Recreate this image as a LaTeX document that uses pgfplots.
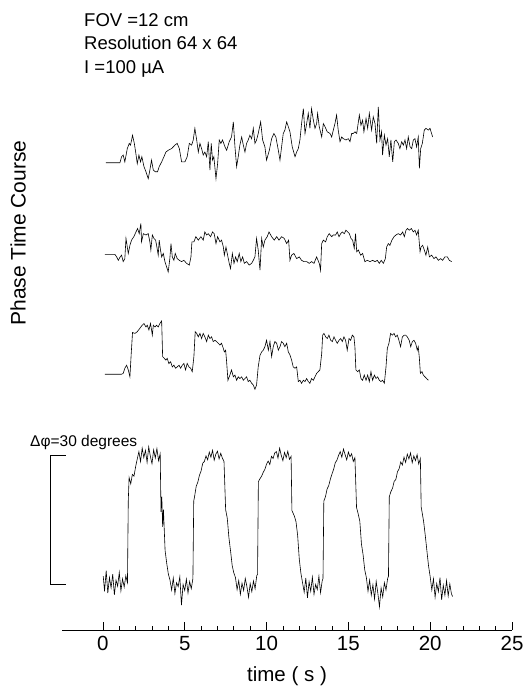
\documentclass[border=0pt]{standalone}
\usepackage{fontspec}
\setmainfont{Liberation Sans}
\usepackage{pgfplots}
\pgfplotsset{compat=1.18}
\usepackage{pgfplotstable}

% phase traces in degrees, stacked (top trace = A, bottom = D)
\pgfplotstableread{
t y
0.18 108.7
1.04 108.7
1.14 110.1
1.24 110.5
1.34 108.9
1.49 112.0
1.61 113.2
1.69 112.8
1.81 115.1
1.92 113.2
2.00 111.2
2.10 108.5
2.20 110.5
2.30 108.9
2.38 110.1
2.51 107.8
2.63 106.6
2.77 105.0
2.87 107.0
2.97 109.3
3.08 107.0
3.20 106.6
3.34 106.6
3.44 107.8
3.59 108.9
3.73 110.1
3.85 111.2
3.99 111.6
4.20 112.0
4.40 112.8
4.54 113.2
4.67 112.0
4.81 108.9
5.01 108.9
5.15 110.1
5.28 113.2
5.42 112.8
5.52 114.0
5.62 116.7
5.73 114.0
5.83 111.2
5.93 113.2
6.03 112.0
6.13 110.5
6.23 111.2
6.34 110.1
6.44 113.6
6.54 107.0
6.62 113.2
6.70 109.3
6.78 110.1
6.91 105.0
7.01 108.5
7.11 114.0
7.21 113.2
7.31 114.0
7.46 112.4
7.56 111.6
7.72 113.6
7.86 114.7
7.97 118.2
8.07 112.4
8.17 107.8
8.27 110.1
8.37 112.8
8.48 114.7
8.58 112.8
8.68 111.2
8.78 113.2
8.88 114.0
8.98 115.1
9.09 114.3
9.19 116.7
9.29 113.2
9.39 114.0
9.49 115.5
9.64 118.2
9.76 114.0
9.90 112.4
10.00 109.3
10.17 111.6
10.31 114.3
10.45 115.5
10.57 114.7
10.72 111.6
10.82 109.3
10.92 112.4
11.02 115.5
11.12 116.3
11.23 118.2
11.33 117.1
11.43 115.9
11.57 112.4
11.74 110.1
11.84 111.2
11.94 112.0
12.04 114.0
12.14 117.8
12.25 121.3
12.35 115.5
12.45 117.8
12.55 120.2
12.65 116.7
12.75 121.3
12.86 118.6
12.96 116.7
13.06 117.8
13.12 120.2
13.22 117.1
13.37 114.7
13.47 117.8
13.57 117.1
13.71 115.9
13.88 115.5
13.98 114.7
14.08 116.3
14.18 117.8
14.28 119.8
14.38 116.3
14.49 113.6
14.59 114.7
14.69 114.3
14.85 114.0
15.00 114.3
15.10 113.6
15.20 115.5
15.30 115.5
15.40 115.9
15.51 115.5
15.67 119.8
15.77 117.4
15.87 118.6
15.95 115.9
16.08 119.0
16.18 116.7
16.28 120.2
16.42 116.3
16.52 119.4
16.63 117.8
16.73 113.2
16.83 121.7
16.93 114.0
17.03 115.9
17.09 110.5
17.20 115.1
17.30 112.8
17.40 114.3
17.50 110.1
17.60 114.0
17.71 108.9
17.81 113.6
17.91 114.0
18.05 113.2
18.15 112.0
18.26 113.6
18.36 112.8
18.46 114.0
18.56 112.0
18.66 114.7
18.77 112.4
18.87 112.0
18.97 114.0
19.07 114.3
19.17 112.4
19.27 114.7
19.34 107.4
19.42 112.0
19.52 113.2
19.64 116.3
19.74 116.7
19.89 116.3
19.99 116.7
20.15 114.7
}\traceA

\pgfplotstableread{
t y
0.12 87.4
0.73 87.4
0.84 86.8
0.94 86.0
1.04 86.7
1.14 87.2
1.24 85.7
1.34 86.4
1.41 91.1
1.49 89.1
1.55 87.6
1.65 89.5
1.75 90.7
1.89 91.5
2.02 92.6
2.12 93.4
2.22 92.2
2.32 94.6
2.36 90.3
2.47 92.2
2.63 91.9
2.77 92.2
2.87 90.3
2.93 88.4
3.02 91.9
3.12 91.1
3.22 90.7
3.28 89.5
3.38 87.2
3.44 90.7
3.52 88.4
3.59 86.8
3.69 87.6
3.79 85.7
3.89 84.5
3.99 83.3
4.09 86.4
4.16 89.9
4.24 86.8
4.34 86.0
4.42 87.6
4.54 86.4
4.67 86.0
4.81 85.7
4.95 86.0
5.11 85.3
5.28 84.9
5.38 86.8
5.44 90.3
5.56 90.3
5.68 91.5
5.83 90.7
5.99 91.5
6.13 90.7
6.23 92.6
6.34 91.9
6.44 92.2
6.58 91.5
6.70 92.6
6.80 92.2
6.91 89.9
7.01 91.5
7.15 90.3
7.25 90.7
7.36 89.1
7.42 87.2
7.52 89.1
7.62 87.2
7.72 85.3
7.80 84.1
7.91 87.6
8.01 85.3
8.11 86.8
8.21 85.7
8.33 87.6
8.43 85.7
8.54 86.8
8.64 85.3
8.78 85.7
8.94 84.9
9.09 85.3
9.19 86.0
9.29 86.8
9.39 91.1
9.49 88.4
9.60 83.7
9.70 91.1
9.80 89.1
9.90 90.7
10.04 91.5
10.15 92.6
10.31 91.5
10.47 90.7
10.62 91.5
10.76 90.7
10.92 91.5
11.08 91.1
11.23 89.9
11.35 90.7
11.43 86.0
11.53 87.2
11.67 87.6
11.84 86.4
12.00 86.8
12.14 86.0
12.29 85.7
12.45 85.7
12.61 85.3
12.75 85.7
12.90 85.3
13.06 86.8
13.22 85.3
13.30 83.7
13.37 89.9
13.47 90.7
13.61 90.3
13.71 91.5
13.83 92.2
13.98 91.5
14.08 91.9
14.22 91.9
14.32 92.6
14.43 91.5
14.53 92.2
14.63 92.6
14.75 92.2
14.85 93.0
14.96 92.6
15.06 92.2
15.16 91.1
15.26 90.7
15.36 88.8
15.44 92.2
15.51 88.0
15.61 88.4
15.75 87.2
15.87 87.6
16.01 85.7
16.16 86.0
16.32 85.7
16.48 86.0
16.63 85.7
16.77 86.0
16.89 85.3
17.01 86.0
17.14 85.3
17.26 86.4
17.34 89.1
17.44 89.9
17.54 89.5
17.66 90.7
17.79 91.5
17.91 91.9
18.05 92.2
18.19 91.9
18.32 92.6
18.42 91.5
18.52 93.0
18.62 93.4
18.72 93.0
18.85 93.4
18.97 92.6
19.07 93.0
19.17 91.9
19.27 93.0
19.38 88.0
19.44 89.1
19.54 89.5
19.64 88.4
19.74 87.2
19.85 89.1
19.95 86.8
20.09 87.2
20.23 86.4
20.35 86.8
20.50 86.0
20.64 86.4
20.76 86.0
20.90 86.8
21.05 86.8
21.17 86.0
21.31 85.7
}\traceB

\pgfplotstableread{
t y
0.12 59.5
1.14 59.5
1.24 59.7
1.34 60.9
1.45 61.6
1.55 60.5
1.65 58.9
1.73 64.3
1.81 69.2
1.96 69.0
2.10 69.4
2.26 70.2
2.40 70.9
2.51 71.3
2.63 70.5
2.71 70.9
2.81 69.8
2.91 71.3
3.02 68.6
3.08 70.9
3.18 70.5
3.28 70.9
3.38 70.5
3.48 71.3
3.59 71.9
3.65 63.6
3.75 63.2
3.85 62.8
3.93 63.2
4.03 62.0
4.14 62.4
4.24 61.2
4.34 61.6
4.44 60.9
4.54 61.2
4.65 61.6
4.75 60.9
4.85 61.6
4.95 62.0
5.05 60.5
5.15 62.0
5.26 61.2
5.36 60.9
5.46 60.1
5.56 63.6
5.64 69.4
5.73 69.0
5.83 68.2
5.93 69.0
6.03 67.8
6.13 69.0
6.23 68.2
6.34 67.1
6.44 68.6
6.54 67.8
6.64 68.2
6.74 67.1
6.85 67.4
6.95 67.1
7.05 66.7
7.15 66.3
7.25 66.7
7.36 65.5
7.42 64.7
7.50 65.1
7.56 62.4
7.64 58.1
7.76 59.3
7.86 60.5
7.97 58.9
8.07 59.3
8.17 58.1
8.27 58.9
8.37 58.5
8.48 58.9
8.58 58.1
8.68 58.5
8.78 58.9
8.88 57.8
8.98 58.1
9.09 57.4
9.19 57.0
9.29 56.0
9.39 57.0
9.49 61.2
9.60 63.9
9.70 64.7
9.80 65.1
9.90 65.9
10.00 67.4
10.11 65.1
10.21 67.1
10.31 63.6
10.41 65.9
10.51 67.1
10.62 66.7
10.72 65.1
10.82 65.9
10.92 67.1
11.02 66.7
11.12 65.9
11.23 66.7
11.33 64.7
11.43 64.0
11.53 62.8
11.63 61.2
11.74 60.9
11.84 61.2
11.94 57.8
12.04 58.1
12.14 57.4
12.25 58.1
12.35 57.8
12.45 58.5
12.55 57.8
12.65 57.4
12.75 58.5
12.86 58.1
12.96 58.9
13.06 59.7
13.16 60.1
13.26 60.5
13.37 64.3
13.43 68.6
13.51 69.0
13.61 68.2
13.71 67.8
13.81 68.6
13.92 67.4
14.02 67.1
14.12 68.2
14.22 67.4
14.32 66.7
14.43 67.4
14.53 67.8
14.63 67.1
14.73 68.2
14.83 67.4
14.93 65.1
15.04 67.8
15.14 67.4
15.24 68.6
15.34 68.2
15.40 65.9
15.46 60.5
15.57 60.1
15.67 60.5
15.77 58.5
15.87 58.1
15.97 59.3
16.08 58.1
16.18 59.3
16.28 57.8
16.38 60.1
16.48 58.1
16.59 59.3
16.69 58.5
16.79 58.9
16.89 58.1
16.99 57.8
17.09 58.1
17.20 57.4
17.30 61.2
17.38 65.5
17.48 66.7
17.58 69.0
17.69 68.6
17.79 69.0
17.89 68.2
17.99 68.6
18.09 67.4
18.19 65.9
18.30 68.2
18.42 68.6
18.50 68.6
18.60 68.2
18.72 67.4
18.81 65.9
18.91 67.1
19.01 67.4
19.11 66.7
19.21 65.1
19.27 65.9
19.34 63.2
19.40 59.7
19.50 60.1
19.58 59.3
19.68 58.9
19.78 58.5
19.89 58.1
}\traceC

\pgfplotstableread{
t y
0.02 12.5
0.1 9.0
0.2 13.8
0.3 8.6
0.4 12.2
0.5 9.8
0.6 13.0
0.7 8.2
0.8 11.6
0.9 10.2
1.0 13.4
1.1 9.1
1.2 11.9
1.3 10.0
1.4 12.6
1.5 11.0
1.55 30.0
1.6 35.5
1.7 34.0
1.8 36.2
1.9 35.8
2.0 38.0
2.1 39.8
2.2 41.5
2.3 39.2
2.4 42.3
2.5 40.1
2.6 41.8
2.7 39.0
2.8 42.6
2.9 40.4
3.0 38.7
3.1 41.9
3.2 40.0
3.3 42.2
3.4 39.4
3.5 41.0
3.55 27.5
3.6 31.0
3.65 24.0
3.7 28.0
3.8 18.5
3.9 15.5
4.0 13.0
4.1 11.6
4.2 9.3
4.3 12.1
4.4 8.5
4.5 11.0
4.6 10.1
4.7 12.4
4.8 5.8
4.9 10.6
5.0 9.2
5.1 11.8
5.2 8.6
5.3 11.3
5.4 9.6
5.5 12.0
5.55 30.0
5.6 31.0
5.7 33.4
5.8 34.4
5.9 36.0
6.0 37.0
6.1 38.8
6.2 39.2
6.3 40.5
6.4 39.6
6.5 41.4
6.6 40.2
6.7 41.8
6.8 39.5
6.9 40.9
7.0 41.6
7.1 39.8
7.2 41.1
7.3 40.0
7.4 39.2
7.5 28.0
7.6 26.0
7.7 21.5
7.8 18.4
7.9 15.0
8.0 13.3
8.1 12.2
8.2 9.4
8.3 11.5
8.4 8.3
8.5 10.9
8.6 9.2
8.7 12.0
8.8 10.1
8.9 7.6
9.0 10.8
9.1 8.9
9.2 11.4
9.3 9.6
9.4 12.6
9.45 13.0
9.5 34.5
9.6 35.2
9.7 35.8
9.8 36.7
9.9 37.4
10.0 38.6
10.1 39.3
10.2 38.5
10.3 40.4
10.4 39.9
10.5 41.2
10.6 41.5
10.7 40.0
10.8 42.3
10.9 40.6
11.0 39.4
11.1 41.3
11.2 40.1
11.3 41.6
11.4 39.7
11.5 40.4
11.55 27.8
11.7 26.5
11.8 25.2
11.9 22.0
12.0 16.5
12.1 13.2
12.2 11.0
12.3 8.8
12.4 12.1
12.5 7.5
12.6 11.2
12.7 9.0
12.8 12.3
12.9 8.3
13.0 10.6
13.1 9.4
13.2 12.5
13.3 8.7
13.4 11.4
13.45 12.0
13.5 30.0
13.6 31.0
13.7 32.8
13.8 33.6
13.9 35.1
14.0 36.3
14.1 37.4
14.2 38.9
14.3 39.5
14.4 40.6
14.5 41.5
14.6 40.2
14.7 42.1
14.8 40.8
14.9 39.6
15.0 41.4
15.1 40.3
15.2 41.0
15.3 39.2
15.4 40.1
15.5 28.5
15.6 27.0
15.7 25.3
15.8 20.0
15.9 17.5
16.0 14.0
16.1 12.2
16.2 9.0
16.3 11.6
16.4 8.1
16.5 10.5
16.6 7.2
16.7 11.3
16.8 8.6
16.9 5.4
17.0 9.8
17.1 7.7
17.2 11.0
17.3 9.3
17.4 12.0
17.45 12.5
17.5 31.0
17.6 32.2
17.7 33.0
17.8 34.6
17.9 35.0
18.0 36.8
18.1 37.5
18.2 39.1
18.3 38.4
18.4 40.2
18.5 39.0
18.6 40.9
18.7 39.8
18.8 41.2
18.9 38.9
19.0 40.5
19.1 39.4
19.2 40.8
19.3 38.6
19.4 39.9
19.45 28.6
19.5 27.5
19.6 25.2
19.7 22.0
19.8 18.4
19.9 14.9
20.0 12.4
20.1 9.3
20.2 11.9
20.3 7.6
20.4 10.8
20.5 8.9
20.6 12.2
20.7 7.0
20.8 10.4
20.9 8.1
21.0 11.5
21.1 7.9
21.2 10.7
21.3 8.4
21.37 7.8
}\traceD

\newcommand{\lblfont}{\fontsize{18.5}{22}\selectfont}
\newcommand{\axfont}{\fontsize{20.5}{24}\selectfont}

\begin{document}
\begin{tikzpicture}
\path[use as bounding box] (0pt,0pt) rectangle (528pt,696pt);
\begin{axis}[
  at={(62pt,66pt)}, anchor=south west,
  scale only axis, width=450pt, height=530pt,
  xmin=-2.5, xmax=25, ymin=0, ymax=123.3,
  axis x line=bottom, axis y line=none,
  axis line style={-, line width=0.8pt},
  xtick={0,5,...,25}, minor x tick num=4,
  tick align=inside,
  major tick length=8pt, minor tick length=3.5pt,
  every tick/.style={black, line width=0.8pt},
  /pgf/number format/assume math mode=true,
  ticklabel style={font=\axfont},
  xticklabel style={yshift=-3pt},
  xlabel={time ( s )},
  xlabel style={font=\axfont, at={(axis description cs:0.5,0)},
    anchor=base, yshift=-52pt},
  clip=false,
]
\addplot[black, line width=0.6pt, no markers] table[x=t, y=y] {\traceA};
\addplot[black, line width=0.6pt, no markers] table[x=t, y=y] {\traceB};
\addplot[black, line width=0.6pt, no markers] table[x=t, y=y] {\traceC};
\addplot[black, line width=0.6pt, no markers] table[x=t, y=y] {\traceD};
% 30 degree scale bar
\draw[line width=0.8pt] (axis cs:-2.26,40.7) -- (axis cs:-3.18,40.7)
  -- (axis cs:-3.18,10.7) -- (axis cs:-2.26,10.7);
\end{axis}
\node[anchor=base west, inner sep=0pt, font=\lblfont] at (84pt,669pt) {FOV =12 cm};
\node[anchor=base west, inner sep=0pt, font=\lblfont] at (84pt,646pt) {Resolution 64 x 64};
\node[anchor=base west, inner sep=0pt, font=\lblfont] at (84pt,622pt) {I =100 µA};
\node[rotate=90, inner sep=0pt, font=\fontsize{21}{24}\selectfont] at (18pt,463pt) {Phase Time Course};
\node[anchor=base west, inner sep=0pt, font=\fontsize{15.5}{18}\selectfont] at (30pt,249pt) {Δφ=30 degrees};
\end{tikzpicture}
\end{document}
